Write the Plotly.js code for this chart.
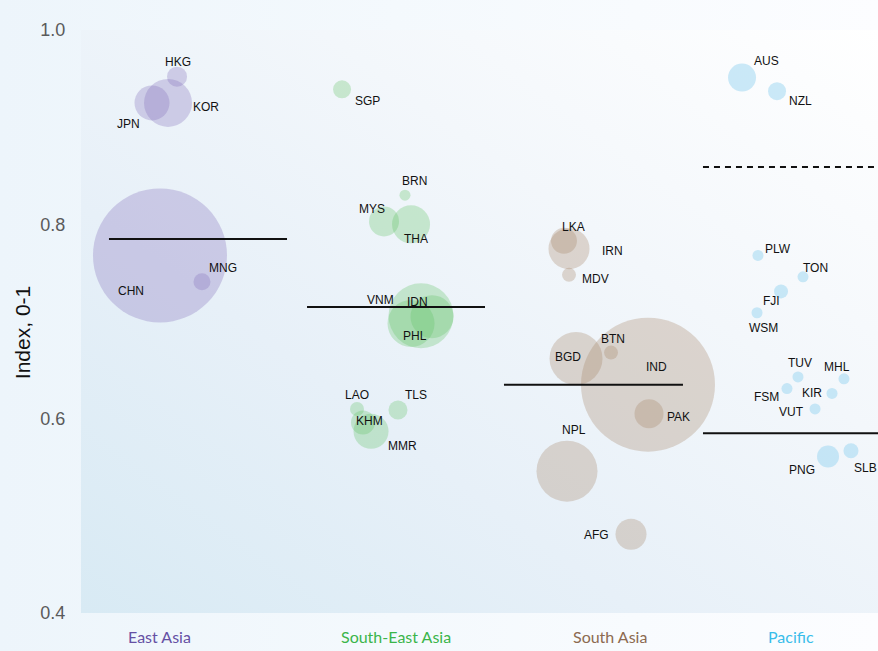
<!DOCTYPE html>
<html>
<head>
<meta charset="utf-8">
<script src="https://cdn.plot.ly/plotly-3.0.1.min.js"></script>
<style>
  html, body { margin: 0; padding: 0; }
  body { width: 878px; height: 651px; overflow: hidden;
         background: linear-gradient(to right, #edf5fb 0%, #f4f9fd 45%, #fcfdff 100%); position: relative; }
  #bgplot { position: absolute; left: 81px; top: 30px; width: 797px; height: 583px;
            background: linear-gradient(to top right, #d8eaf4 0%, #e7f0f8 35%, #f3f7fb 65%, #ffffff 100%); }
  #chart { position: absolute; left: 0; top: 0; width: 878px; height: 651px; }
</style>
</head>
<body>
<div id="bgplot"></div>
<div id="chart"></div>
<script>
// ---- Data ----
const regionNames = ['East Asia', 'South-East Asia', 'South Asia', 'Pacific'];
const regionMeans = [0.785, 0.715, 0.635, 0.585];
const pacificDeveloped = 0.859;
const regionLabelX = [0.991, 3.952, 6.640, 8.908];

const eaCodes = ['HKG', 'JPN', 'KOR', 'CHN', 'MNG'];
const eaX = [1.205, 0.891, 1.092, 0.991, 1.518];
const eaY = [0.952, 0.925, 0.925, 0.768, 0.741];
const eaSize = [20, 35, 48, 134, 17];

const seaCodes = ['SGP', 'BRN', 'MYS', 'THA', 'IDN', 'PHL', 'VNM', 'LAO', 'KHM', 'MMR', 'TLS'];
const seaX = [3.275, 4.065, 3.802, 4.141, 4.266, 4.141, 4.404, 3.463, 3.538, 3.639, 3.977];
const seaY = [0.939, 0.830, 0.803, 0.800, 0.706, 0.698, 0.705, 0.610, 0.596, 0.587, 0.609];
const seaSize = [18, 11, 30, 38, 65, 47, 43, 14, 24, 35, 19];

const saCodes = ['LKA', 'IRN', 'MDV', 'BGD', 'BTN', 'IND', 'PAK', 'NPL', 'AFG'];
const saX = [6.060, 6.123, 6.123, 6.211, 6.650, 7.114, 7.127, 6.098, 6.901];
const saY = [0.783, 0.775, 0.748, 0.662, 0.668, 0.635, 0.605, 0.546, 0.481];
const saSize = [26, 41, 14, 53, 14, 134, 29, 61, 31];

const pacCodes = ['AUS', 'NZL', 'PLW', 'TON', 'FJI', 'WSM', 'TUV', 'MHL', 'FSM', 'KIR', 'VUT', 'PNG', 'SLB'];
const pacX = [8.294, 8.733, 8.494, 9.059, 8.783, 8.482, 8.996, 9.573, 8.858, 9.423, 9.210, 9.373, 9.661];
const pacY = [0.951, 0.937, 0.768, 0.746, 0.731, 0.709, 0.643, 0.641, 0.631, 0.626, 0.610, 0.561, 0.567];
const pacSize = [28, 18, 11, 11, 14, 11, 11, 11, 11, 11, 11, 22, 15];

// ---- Styling / layout helpers ----
const regionFill = ['rgba(132,112,188,0.44)', 'rgba(95,195,100,0.42)', 'rgba(163,130,100,0.42)', 'rgba(140,208,240,0.64)'];
const regionText = ['#6550a4', '#3bb54a', '#8c6a50', '#39bdea'];
const regionSpan = [[0.351, 2.585], [2.836, 5.069], [5.307, 7.553], [7.804, 10]];

// label pixel offsets (dx, dy) from bubble centre
const labelOffsets = {
  HKG: [1, -15], JPN: [-24, 21], KOR: [38, 4], CHN: [-29, 36], MNG: [21, -14],
  SGP: [25, 12], BRN: [10, -14], MYS: [-12, -12], THA: [5, 15], IDN: [-4, -14], PHL: [4, 13],
  VNM: [-52, -17], LAO: [0, -14], KHM: [7, -2], MMR: [31, 15], TLS: [18, -15],
  LKA: [10, -14], IRN: [43, 2], MDV: [26, 4], BGD: [-8, -1], BTN: [2, -14], IND: [9, -18],
  PAK: [29, 3], NPL: [7, -41], AFG: [-35, 1],
  AUS: [24, -17], NZL: [23, 10], PLW: [20, -6], TON: [12, -9], FJI: [-10, 10], WSM: [6, 15],
  TUV: [2, -14], MHL: [-7, -12], FSM: [-20, 8], KIR: [-20, 0], VUT: [-24, 3], PNG: [-26, 13], SLB: [15, 17]
};

const groups = [
  {codes: eaCodes, x: eaX, y: eaY, s: eaSize},
  {codes: seaCodes, x: seaX, y: seaY, s: seaSize},
  {codes: saCodes, x: saX, y: saY, s: saSize},
  {codes: pacCodes, x: pacX, y: pacY, s: pacSize}
];

const traces = groups.map((g, i) => ({
  type: 'scatter', mode: 'markers', name: regionNames[i],
  x: g.x, y: g.y, text: g.codes,
  marker: {size: g.s, sizemode: 'diameter', sizeref: 1, color: regionFill[i], line: {width: 0}},
  hovertemplate: '%{text}: %{y:.3f}<extra></extra>',
  cliponaxis: false
}));

const annotations = [];
groups.forEach(g => {
  g.codes.forEach((c, k) => {
    const off = labelOffsets[c] || [0, 0];
    annotations.push({
      x: g.x[k], y: g.y[k], xref: 'x', yref: 'y', text: c, showarrow: false,
      xshift: off[0], yshift: -off[1], xanchor: 'center', yanchor: 'middle',
      font: {family: 'Arial, Liberation Sans, sans-serif', size: 12, color: '#111'}
    });
  });
});
regionNames.forEach((r, i) => {
  annotations.push({
    x: regionLabelX[i], y: 0, xref: 'x', yref: 'paper', text: r, showarrow: false,
    xanchor: 'center', yanchor: 'top', yshift: -13, borderpad: 0,
    font: {family: 'Lato, sans-serif', size: 16, color: regionText[i]}
  });
});
annotations.push({
  x: 0, y: 0.688, xref: 'paper', yref: 'y', text: 'Index, 0-1', showarrow: false,
  textangle: -90, xanchor: 'center', yanchor: 'middle', xshift: -59,
  font: {family: 'Arial, Liberation Sans, sans-serif', size: 21, color: '#111'}
});

const shapes = regionMeans.map((m, i) => ({
  type: 'line', xref: 'x', yref: 'y', x0: regionSpan[i][0], x1: regionSpan[i][1], y0: m, y1: m,
  line: {color: '#111', width: 2}
}));
shapes.push({
  type: 'line', xref: 'x', yref: 'y', x0: regionSpan[3][0], x1: regionSpan[3][1],
  y0: pacificDeveloped, y1: pacificDeveloped, line: {color: '#111', width: 2, dash: '6px,5px'}
});

const layout = {
  width: 878, height: 651,
  margin: {l: 81, r: 0, t: 30, b: 38},
  paper_bgcolor: 'rgba(0,0,0,0)', plot_bgcolor: 'rgba(0,0,0,0)',
  showlegend: false,
  xaxis: {range: [0, 10], showgrid: false, zeroline: false, showticklabels: false, showline: false, fixedrange: true},
  yaxis: {range: [0.4, 1.0], tickvals: [0.4, 0.6, 0.8, 1.0], ticktext: ['0.4', '0.6', '0.8', '1.0'],
          showgrid: false, zeroline: false, showline: false,
          ticks: 'outside', ticklen: 11, tickcolor: 'rgba(0,0,0,0)',
          tickfont: {family: 'Arial, Liberation Sans, sans-serif', size: 18, color: '#5a5a5a'}},
  shapes: shapes,
  annotations: annotations,
  hovermode: 'closest'
};

Plotly.newPlot('chart', traces, layout, {displayModeBar: false});
</script>
</body>
</html>
